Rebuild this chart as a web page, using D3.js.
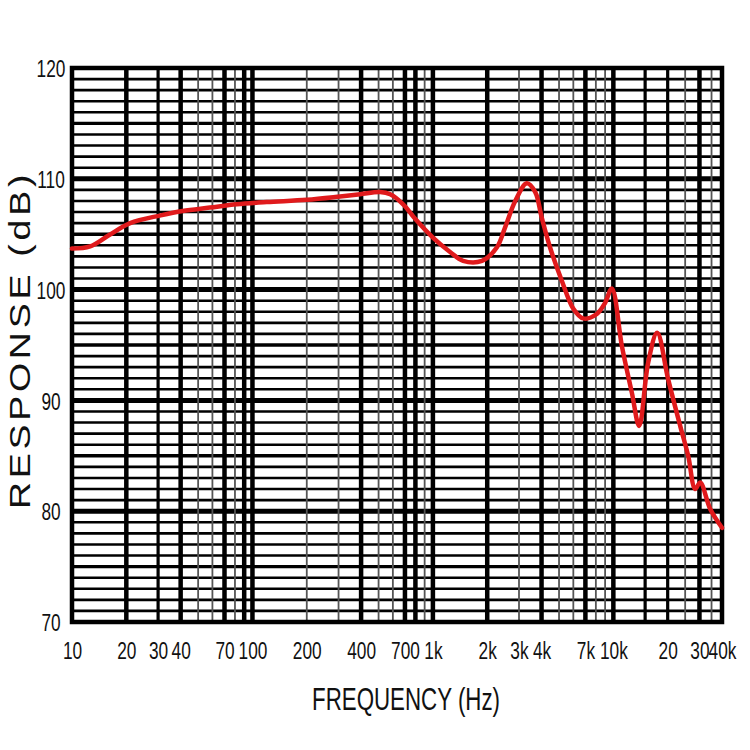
<!DOCTYPE html>
<html>
<head>
<meta charset="utf-8">
<script src="https://cdn.jsdelivr.net/npm/d3@7"></script>
<style>
  body { margin: 0; background: #fff; }
  text { font-family: "Liberation Sans", Arial, sans-serif; fill: #111; }
</style>
</head>
<body>
<div id="chart"></div>
<script>
// measured response curve (Hz, dB)
const freqs = [10, 12.6, 16, 21, 31, 41, 58, 82, 120, 200, 306, 395, 510, 580, 684, 797,
  1000, 1245, 1470, 1870, 2260, 2510, 2860, 3315, 3690, 4010, 4460, 5180, 5990, 6810,
  8100, 9000, 9810, 11150, 12660, 13900, 15590, 17490, 20130, 23460, 25980, 28410,
  30280, 34410, 40000];
const response = [103.7, 103.9, 104.9, 106.0, 106.7, 107.1, 107.4, 107.7, 107.9, 108.1,
  108.4, 108.6, 108.8, 108.6, 107.7, 106.4, 104.7, 103.4, 102.6, 102.6, 103.8, 105.6,
  108.0, 109.6, 108.8, 106.5, 103.8, 100.8, 98.3, 97.4, 97.8, 98.8, 100.1, 94.9, 90.7,
  87.7, 93.4, 96.1, 91.9, 87.7, 85.0, 82.0, 82.6, 80.2, 78.5];

// axis ticks
const xTickValues = [10, 20, 30, 40, 70, 100, 200, 400, 700, 1000, 2000, 3000, 4000,
  7000, 10000, 20000, 30000, 40000];
const xTickLabels = ["10", "20", "30", "40", "70", "100", "200", "400", "700", "1k", "2k",
  "3k", "4k", "7k", "10k", "20", "30", "40k"];
const yTickValues = [70, 80, 90, 100, 110, 120];

// grid lines of the chart paper
const xGrid = [20, 30, 40, 50, 60, 70, 80, 90, 100, 200, 300, 400, 500, 600, 700, 800, 900,
  1000, 2000, 3000, 4000, 5000, 6000, 7000, 8000, 9000, 10000, 15000, 20000, 25000,
  30000, 35000];
const xGridBold = [20, 40, 70, 90, 100, 400, 700, 800, 1000, 2000, 4000, 7000, 10000, 30000];
const xGridMid = [30, 15000, 20000];
const yGrid = d3.range(71, 120);

const width = 750;
const height = 750;
const plot = { left: 72, right: 722, top: 68, bottom: 622 };

const svg = d3.select("#chart")
  .append("svg")
  .attr("width", width)
  .attr("height", height);

svg.append("rect").attr("width", width).attr("height", height).attr("fill", "#fff");

const x = d3.scaleLog()
  .domain([10, 40000])
  .range([plot.left, plot.right]);

const y = d3.scaleLinear()
  .domain([70, 120])
  .range([plot.bottom, plot.top]);

// horizontal grid
svg.append("g")
  .selectAll("line")
  .data(yGrid)
  .join("line")
  .attr("x1", plot.left)
  .attr("x2", plot.right)
  .attr("y1", d => y(d))
  .attr("y2", d => y(d))
  .attr("stroke", "#000")
  .attr("stroke-width", d => d % 10 === 0 ? 5 : (d % 5 === 0 ? 3.4 : 2.6));

// vertical grid
svg.append("g")
  .selectAll("line")
  .data(xGrid)
  .join("line")
  .attr("x1", d => x(d))
  .attr("x2", d => x(d))
  .attr("y1", plot.top)
  .attr("y2", plot.bottom)
  .attr("stroke", d => xGridBold.includes(d) || xGridMid.includes(d) ? "#000" : "#555")
  .attr("stroke-width", d => xGridBold.includes(d) ? 4.5 : (xGridMid.includes(d) ? 3.2 : 1.8));

// frame
svg.append("rect")
  .attr("x", plot.left)
  .attr("y", plot.top)
  .attr("width", plot.right - plot.left)
  .attr("height", plot.bottom - plot.top)
  .attr("fill", "none")
  .attr("stroke", "#000")
  .attr("stroke-width", 4.5);

// response curve
const line = d3.line()
  .x((d, i) => x(freqs[i]))
  .y(d => y(d))
  .curve(d3.curveCatmullRom.alpha(0.5));

svg.append("path")
  .datum(response)
  .attr("d", line)
  .attr("fill", "none")
  .attr("stroke", "#e01a1c")
  .attr("stroke-width", 4.5)
  .attr("stroke-linejoin", "round")
  .attr("stroke-linecap", "round");

// x axis
const xAxis = svg.append("g")
  .attr("transform", `translate(0, 659)`)
  .call(d3.axisBottom(x)
    .tickValues(xTickValues)
    .tickFormat((d, i) => xTickLabels[i])
    .tickSize(0));
xAxis.select(".domain").remove();
xAxis.selectAll("text")
  .attr("y", 0)
  .attr("dy", null)
  .attr("transform", "scale(0.72,1)")
  .style("font-size", "24px")
  .attr("fill", "#111");

// y axis
const yAxis = svg.append("g")
  .attr("transform", `translate(${plot.left}, 0)`)
  .call(d3.axisLeft(y)
    .tickValues(yTickValues)
    .tickSize(0));
yAxis.select(".domain").remove();
yAxis.selectAll("text")
  .attr("x", 0)
  .attr("dy", "0.36em")
  .attr("text-anchor", "middle")
  .attr("transform", "translate(-21,0) scale(0.72,1)")
  .style("font-size", "24px")
  .attr("fill", "#111");

// axis titles
svg.append("text")
  .attr("transform", "translate(406, 710) scale(0.72,1)")
  .attr("text-anchor", "middle")
  .style("font-size", "31px")
  .text("FREQUENCY (Hz)");

svg.append("text")
  .attr("transform", "translate(30, 340) rotate(-90) scale(1.25,1)")
  .attr("text-anchor", "middle")
  .style("font-size", "30px")
  .style("letter-spacing", "3px")
  .text("RESPONSE (dB)");
</script>
</body>
</html>
